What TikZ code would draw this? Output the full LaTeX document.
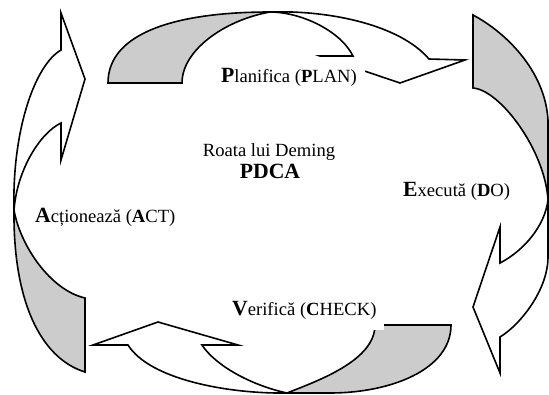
\documentclass[tikz,border=0pt]{standalone}
\usepackage{fontspec}
\setmainfont{Liberation Serif}
\definecolor{backside}{gray}{0.8}
\tikzset{
  ribbon/.style={draw=black, line width=1.6pt, line join=miter},
  backface/.style={ribbon, fill=backside},
  frontface/.style={ribbon, fill=white},
  phase/.style={fill=white, inner xsep=8pt, inner ysep=11pt, anchor=base west,
    font=\fontsize{18.6}{22}\selectfont},
  title/.style={anchor=base, inner sep=0pt},
}
\newcommand\leadletter[1]{{\fontsize{21.7}{24}\selectfont\bfseries #1}}
\newcommand\keyletter[1]{{\bfseries #1}}
\begin{document}
\begin{tikzpicture}[x=1pt, y=-1pt]
\useasboundingbox (0,0) rectangle (549,394);
\clip (0,0) rectangle (549,394);

% --- PLAN: ribbon over the top, head pointing down on the right
\path[backface] (108,83) -- (182,83)
  .. controls (182,50) and (225,20) .. (270,12)
  .. controls (178,12) and (108,32) .. (108,83) -- cycle;
\path[frontface] (270,12)
  .. controls (330,10) and (400,25) .. (429,59)
  -- (465,60) -- (400,83) -- (320,56) -- (353,56)
  .. controls (340,30) and (300,12) .. (270,12) -- cycle;

% --- DO: ribbon down the right side, head pointing left at the bottom
\path[backface] (473,15) -- (473,88)
  .. controls (500,90) and (545,150) .. (548,200)
  -- (548,120)
  .. controls (545,70) and (505,32) .. (473,15) -- cycle;
\path[frontface] (548,200) -- (548,257)
  .. controls (548,290) and (520,325) .. (500,337)
  -- (500,373) -- (473,307) -- (500,227) -- (500,263)
  .. controls (525,250) and (545,225) .. (548,200) -- cycle;

% --- CHECK: ribbon along the bottom, head pointing up on the left
\path[backface] (375,325) -- (451,325)
  .. controls (451,370) and (390,393) .. (330,393)
  -- (287,393)
  .. controls (320,380) and (375,360) .. (375,325) -- cycle;
\path[frontface] (287,393)
  .. controls (230,394) and (150,380) .. (128,345)
  -- (93,345) -- (158,322) -- (238,345) -- (202,345)
  .. controls (215,365) and (250,385) .. (287,393) -- cycle;

% --- ACT: ribbon up the left side, head pointing right at the top
\path[backface] (85,298) -- (85,372)
  .. controls (40,358) and (13,300) .. (14,210)
  .. controls (20,245) and (50,290) .. (85,298) -- cycle;
\path[frontface] (14,210)
  .. controls (12,130) and (35,65) .. (61,50)
  -- (61,13) -- (85,79) -- (61,160) -- (61,123)
  .. controls (40,133) and (17,170) .. (14,210) -- cycle;

% --- centre title
\node[title, font=\fontsize{18.6}{22}\selectfont] (wheel) at (269,156) {Roata lui Deming};
\node[title, font=\fontsize{21.7}{24}\selectfont\bfseries] (pdca) at (270,178) {PDCA};

% --- phase labels
\node[phase] (plan)  at (213,82)  {\leadletter{P}lanifica (\keyletter{P}LAN)};
\node[phase] (do)    at (395,196) {\leadletter{E}xecută (\keyletter{D}O)};
\node[phase] (check) at (224,315) {\leadletter{V}erifică (\keyletter{C}HECK)};
\node[phase] (act)   at (27,222)  {\leadletter{A}cționează (\keyletter{A}CT)};
\end{tikzpicture}
\end{document}
